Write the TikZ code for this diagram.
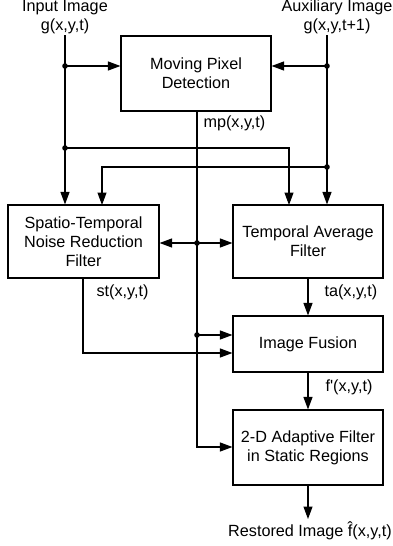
\documentclass[tikz,border=0pt]{standalone}
\usepackage{fontspec}
\setmainfont{Liberation Sans}
\usetikzlibrary{arrows.meta}
\begin{document}
\begin{tikzpicture}[x=1pt,y=-1pt,
  font=\fontsize{16.2}{19.2}\selectfont,
  every path/.style={line width=1.1pt},
  blk/.style={draw, rectangle, align=center, inner sep=0pt},
  arr/.style={-{Triangle[length=12.5pt,width=9pt]}},
  darr/.style={{Triangle[length=12.5pt,width=9pt]}-{Triangle[length=12.5pt,width=9pt]}},
  lbl/.style={inner sep=0pt, align=center}]
\useasboundingbox (0,0) rectangle (393,546);
% blocks
\node[blk, minimum width=150pt, minimum height=75pt] (mpd) at (196,73.5) {Moving Pixel\\Detection};
\node[blk, minimum width=151pt, minimum height=73pt] (st) at (83.5,241.5) {Spatio-Temporal\\Noise Reduction\\Filter};
\node[blk, minimum width=150pt, minimum height=73pt] (ta) at (308,241.5) {Temporal Average\\Filter};
\node[blk, minimum width=150pt, minimum height=56pt] (if) at (308,344) {Image Fusion};
\node[blk, minimum width=150pt, minimum height=75pt] (ad) at (308,447.5) {2-D Adaptive Filter\\in Static Regions};
% labels
\node[lbl] (inp) at (65,17) {Input Image\\g(x,y,t)};
\node[lbl] (aux) at (337,17) {Auxiliary Image\\g(x,y,t+1)};
\node[lbl, anchor=west] (mpl) at (203,123) {mp(x,y,t)};
\node[lbl, anchor=west] (stl) at (96,292) {st(x,y,t)};
\node[lbl, anchor=west] (tal) at (324,292) {ta(x,y,t)};
\node[lbl, anchor=west] (fl) at (325,387) {f\textquotesingle(x,y,t)};
\node[lbl] (out) at (310,531) {Restored Image \^{f}(x,y,t)};
% junctions
\coordinate (lin) at (65,35);
\coordinate (rin) at (327,35);
\coordinate (d1) at (65,66);
\coordinate (d2) at (327,66);
\coordinate (d3) at (65,148);
\coordinate (d4) at (327,167);
\coordinate (d5) at (197,243);
\coordinate (d6) at (197,335);
\coordinate (mpb) at (197,111);
\coordinate (stb) at (83,278);
\foreach \d in {d1,d2,d3,d4,d5,d6} \fill (\d) circle (2.8pt);
% input lines
\draw[arr] (lin) -- (lin |- st.north);
\draw[arr] (rin) -- (rin |- ta.north);
\draw[arr] (d1) -- (d1 -| mpd.west);
\draw[arr] (d2) -- (d2 -| mpd.east);
\draw[arr] (d3) -- (289,148) -- (289,205);
\draw[arr] (d4) -- (102,167) -- (102,205);
% mp line
\draw[arr] (mpb) -- (197,447) -- (ad.west |- 0,447);
\draw[darr] (st.east |- d5) -- (ta.west |- d5);
\draw[arr] (d6) -- (d6 -| if.west);
% st line
\draw[arr] (stb) -- (83,353) -- (if.west |- 0,353);
% right column
\draw[arr] (ta.south) -- (if.north);
\draw[arr] (if.south) -- (ad.north);
\draw[arr] (ad.south) -- (308,519);
\end{tikzpicture}
\end{document}
